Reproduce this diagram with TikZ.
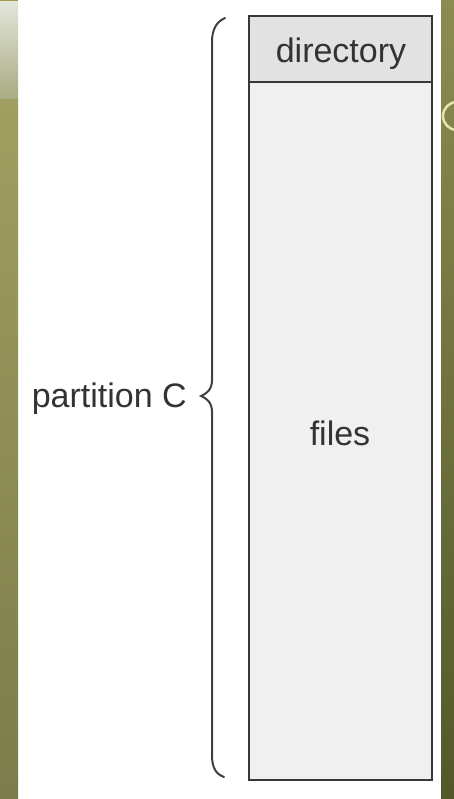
\documentclass[tikz,border=0pt]{standalone}
\usepackage{fontspec}
\setmainfont{Liberation Sans}
\begin{document}
\begin{tikzpicture}[x=1pt,y=-1pt,
  boxline/.style={draw=black!78, line width=2pt},
  lbl/.style={inner sep=0pt, anchor=base, text=black!80, font=\fontsize{34}{40}\selectfont},
  bracepen/.style={draw=black!75, line width=2pt, line cap=round}]
\useasboundingbox (0,0) rectangle (454,799);
\fill[white] (0,0) rectangle (454,799);
% left strip
\fill[olive!80!black!70] (0,0) rectangle (18,2);
\shade[top color={rgb,255:red,226;green,230;blue,218}, bottom color={rgb,255:red,168;green,170;blue,128}] (0,2) rectangle (18,100);
\shade[top color={rgb,255:red,160;green,158;blue,96}, bottom color={rgb,255:red,124;green,124;blue,76}] (0,100) rectangle (18,799);
% right strip
\shade[top color={rgb,255:red,140;green,140;blue,82}, bottom color={rgb,255:red,82;green,88;blue,42}] (441,0) rectangle (454,799);
\begin{scope}
\clip (441,0) rectangle (454,799);
\draw[draw={rgb,255:red,230;green,226;blue,168}, line width=2.5pt] (457,116) circle (14);
\end{scope}
% boxes
\node[boxline, fill={rgb,255:red,226;green,226;blue,226}, rectangle, inner sep=0pt, minimum width=183pt, minimum height=66pt, anchor=north west] (dir) at (248,15) {};
\node[boxline, fill={rgb,255:red,240;green,240;blue,240}, rectangle, inner sep=0pt, minimum width=183pt, minimum height=698pt, anchor=north west] (files) at (248,81) {};
\node[lbl] (dirtxt) at (341,63) {directory};
\node[lbl] (filestxt) at (340,445) {files};
\node[lbl, anchor=base east] (parttxt) at (187,407) {partition C};
% brace
\coordinate (bt) at (225,18);
\coordinate (bm) at (201,396);
\coordinate (bb) at (224,777);
\draw[bracepen] (bt) .. controls (216,22) and (212,30) .. (212,42)
  -- (212,380) .. controls (212,390) and (206,394) .. (bm)
  .. controls (206,398) and (212,402) .. (212,412)
  -- (212,755) .. controls (212,768) and (216,774) .. (bb);
\end{tikzpicture}
\end{document}
